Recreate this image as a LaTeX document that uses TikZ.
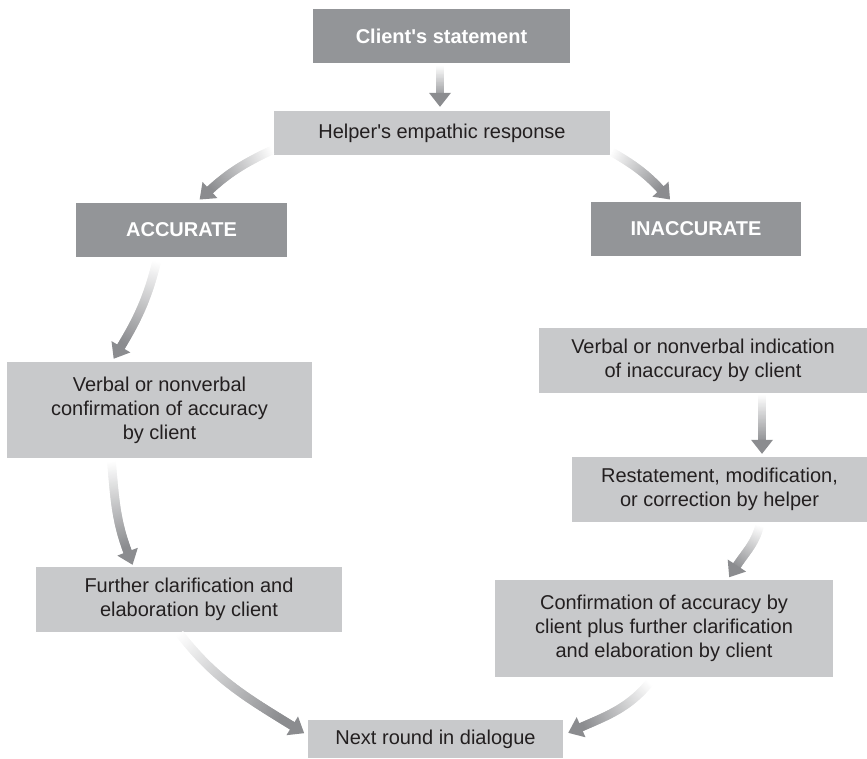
\documentclass[tikz,border=0pt]{standalone}
\usepackage{fontspec}
\setmainfont{Liberation Sans}[Ligatures=TeXOff]
\usetikzlibrary{calc,decorations.markings}
\definecolor{boxdark}{HTML}{939598}
\definecolor{boxlight}{HTML}{C8C9CB}
\definecolor{arrowgray}{HTML}{8B8C8F}
\definecolor{ink}{HTML}{231F20}

\begin{document}
\begin{tikzpicture}[x=1pt,y=1pt,
  base/.style={inner sep=0pt, align=center, font=\fontsize{20}{24}\selectfont},
  darkbox/.style={base, fill=boxdark, text=white, font=\fontsize{20}{24}\selectfont\bfseries},
  lightbox/.style={base, fill=boxlight, text=ink},
  % thick arrow whose shaft fades in from white towards the head
  gradarrow/.style={decorate, decoration={markings,
    mark=between positions 0 and -10pt step 0.8pt with {
      \pgfkeysgetvalue{/pgf/decoration/mark info/distance from start}\dd
      \pgfmathsetmacro\pct{min(100,(\dd/\pgfdecoratedpathlength)*120)}
      \fill[arrowgray!\pct!white] (-0.7pt,-4.3pt) rectangle (0.7pt,4.3pt);
    },
    mark=at position -14pt with {
      \fill[arrowgray] (14pt,0pt) -- (0pt,11pt) -- (0pt,-11pt) -- cycle;
    }}}]
\useasboundingbox (0,0) rectangle (867,-758);

% boxes
\node[darkbox, minimum width=257pt, minimum height=54pt] (client) at (441.5,-36) {Client's statement};
\node[lightbox, minimum width=336pt, minimum height=44pt] (helper) at (442,-133) {Helper's empathic response};
\node[darkbox, minimum width=211pt, minimum height=54pt] (acc) at (181.5,-230) {ACCURATE};
\node[darkbox, minimum width=210pt, minimum height=54pt] (inacc) at (696,-229) {INACCURATE};
\node[lightbox, minimum width=305pt, minimum height=96pt] (conf) at (159.5,-410)
  {Verbal or nonverbal\\confirmation of accuracy\\by client};
\node[lightbox, minimum width=328pt, minimum height=65pt] (ind) at (703,-360.5)
  {Verbal or nonverbal indication\\of inaccuracy by client};
\node[lightbox, minimum width=295pt, minimum height=65pt] (rest) at (719.5,-489.5)
  {Restatement, modification,\\or correction by helper};
\node[lightbox, minimum width=306pt, minimum height=65pt] (further) at (189,-599.5)
  {Further clarification and\\elaboration by client};
\node[lightbox, minimum width=338pt, minimum height=97pt] (confacc) at (664,-628.5)
  {Confirmation of accuracy by\\client plus further clarification\\and elaboration by client};
\node[lightbox, minimum width=255pt, minimum height=38pt] (next) at (435.5,-739) {Next round in dialogue};

% connectors
\path[gradarrow] ($(client.south)+(-1.5,-3)$) -- ($(helper.north)+(-2,4)$);
\path[gradarrow] ($(helper.south west)+(-2,5)$) to[out=205,in=45] ($(acc.north west)+(124,3)$);
\path[gradarrow] ($(helper.south east)+(2,3)$) to[out=-30,in=130] ($(inacc.north west)+(79,2)$);
\path[gradarrow] ($(acc.south)+(-25,-5)$) to[out=256,in=58] ($(conf.north)+(-46,3)$);
\path[gradarrow] ($(conf.south)+(-48,-4)$) to[out=-85,in=114] ($(further.north)+(-56,2)$);
\path[gradarrow] ($(further.south)+(-9,-2)$) to[out=-52,in=148] ($(next.west)+(-4,6)$);
\path[gradarrow] ($(ind.south)+(59,-2)$) -- ($(rest.north)+(42.5,3)$);
\path[gradarrow] ($(rest.south)+(40,-4)$) to[out=-105,in=65] ($(confacc.north)+(66,2)$);
\path[gradarrow] ($(confacc.south)+(-15,-6)$) to[out=-130,in=25] ($(next.east)+(5,6)$);
\end{tikzpicture}
\end{document}
